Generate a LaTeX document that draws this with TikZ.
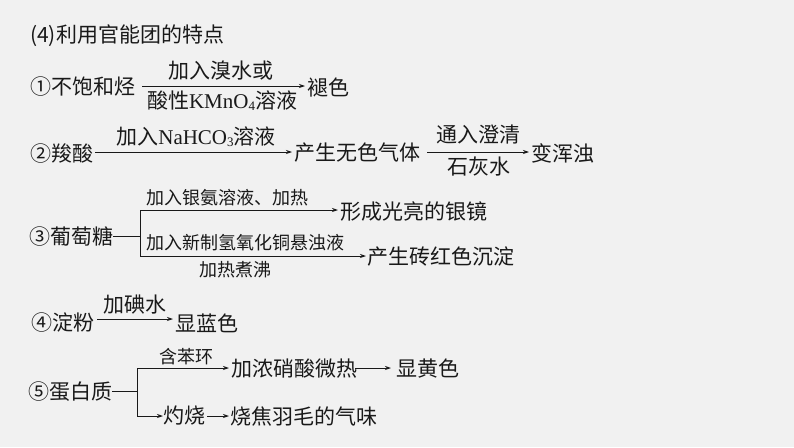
\documentclass[tikz,border=0pt]{standalone}
\usepackage{fontspec}
\setmainfont{Noto Sans CJK SC}
\newfontfamily\latserif{Liberation Serif}
\usetikzlibrary{arrows.meta}
\definecolor{bgc}{RGB}{241,241,241}
\definecolor{ink}{RGB}{25,25,25}
\newcommand{\fbig}{\fontsize{21pt}{24pt}\selectfont}
\newcommand{\fsmall}{\fontsize{18pt}{21pt}\selectfont}
\newcommand{\fsub}{\fontsize{13pt}{15pt}\selectfont}
\tikzset{
  txt/.style={inner sep=0pt, anchor=west, text=ink, font=\fbig},
  lbl/.style={inner sep=0pt, text=ink, font=\fbig},
  slbl/.style={inner sep=0pt, text=ink, font=\fsmall},
  conn/.style={draw=ink, line width=0.8pt},
  arr/.style={conn, -{Stealth[length=6pt,width=4pt]}},
}
\begin{document}
\begin{tikzpicture}[x=1pt,y=-1pt]
\fill[bgc] (0,0) rectangle (794,447);
\useasboundingbox (0,0) rectangle (794,447);

% title
\node[txt] (title) at (30,36) {(4)利用官能团的特点};

% row 1
\node[txt] (r1a) at (30,87) {①不饱和烃};
\node[txt] (r1b) at (307,87) {褪色};
\coordinate (r1s) at (142,86);
\coordinate (r1e) at (305,86);
\draw[arr] (r1s) -- (r1e);
\node[lbl] (r1t) at (221,71) {加入溴水或};
\node[lbl] (r1u) at (222,101) {酸性{\latserif KMnO}{\latserif\fsub\raisebox{-2pt}{4}}溶液};

% row 2
\node[txt] (r2a) at (30,153) {②羧酸};
\node[txt] (r2b) at (294,153) {产生无色气体};
\node[txt] (r2c) at (531,153) {变浑浊};
\coordinate (r2s) at (95,152);
\coordinate (r2e) at (292,152);
\draw[arr] (r2s) -- (r2e);
\node[lbl] (r2t) at (196,137) {加入{\latserif NaHCO}{\latserif\fsub\raisebox{-2pt}{3}}溶液};
\coordinate (r2s2) at (427,152);
\coordinate (r2e2) at (529,152);
\draw[arr] (r2s2) -- (r2e2);
\node[lbl] (r2u) at (478,135) {通入澄清};
\node[lbl] (r2v) at (479,167) {石灰水};

% row 3
\node[txt] (r3a) at (29,237) {③葡萄糖};
\coordinate (r3j) at (140,236);
\coordinate (r3t) at (140,210);
\coordinate (r3b) at (140,256);
\coordinate (r3te) at (338,210);
\coordinate (r3be) at (366,256);
\node[txt] (r3x) at (340,212) {形成光亮的银镜};
\node[txt] (r3y) at (367,257) {产生砖红色沉淀};
\draw[conn] (r3a.east |- r3j) -- (r3j);
\draw[conn] (r3t) -- (r3b);
\draw[arr] (r3t) -- (r3te);
\draw[arr] (r3b) -- (r3be);
\node[slbl, anchor=west] (r3l1) at (146,198) {加入银氨溶液、加热};
\node[slbl, anchor=west] (r3l2) at (146,243) {加入新制氢氧化铜悬浊液};
\node[slbl] (r3l3) at (235,270) {加热煮沸};

% row 4
\node[txt] (r4a) at (31,323) {④淀粉};
\node[txt] (r4b) at (175,323) {显蓝色};
\coordinate (r4s) at (97,319);
\coordinate (r4e) at (173,319);
\draw[arr] (r4s) -- (r4e);
\node[lbl] (r4t) at (135,305) {加碘水};

% row 5
\node[txt] (r5a) at (28,392) {⑤蛋白质};
\coordinate (r5j) at (137,391);
\coordinate (r5t) at (137,368);
\coordinate (r5b) at (137,416);
\node[txt] (r5x) at (231,369) {加浓硝酸微热};
\node[txt] (r5y) at (396,369) {显黄色};
\node[txt] (r5z) at (163,416) {灼烧};
\node[txt] (r5w) at (230,416) {烧焦羽毛的气味};
\coordinate (r5te) at (229,368);
\coordinate (r5s2) at (355,368);
\coordinate (r5e2) at (391,368);
\coordinate (r5be) at (163,416);
\coordinate (r5s3) at (207,416);
\coordinate (r5e3) at (229,416);
\draw[conn] (r5a.east |- r5j) -- (r5j);
\draw[conn] (r5t) -- (r5b);
\draw[arr] (r5t) -- (r5te);
\node[slbl] (r5l) at (186,357) {含苯环};
\draw[arr] (r5s2) -- (r5e2);
\draw[arr] (r5b) -- (r5be);
\draw[arr] (r5s3) -- (r5e3);
\end{tikzpicture}
\end{document}
